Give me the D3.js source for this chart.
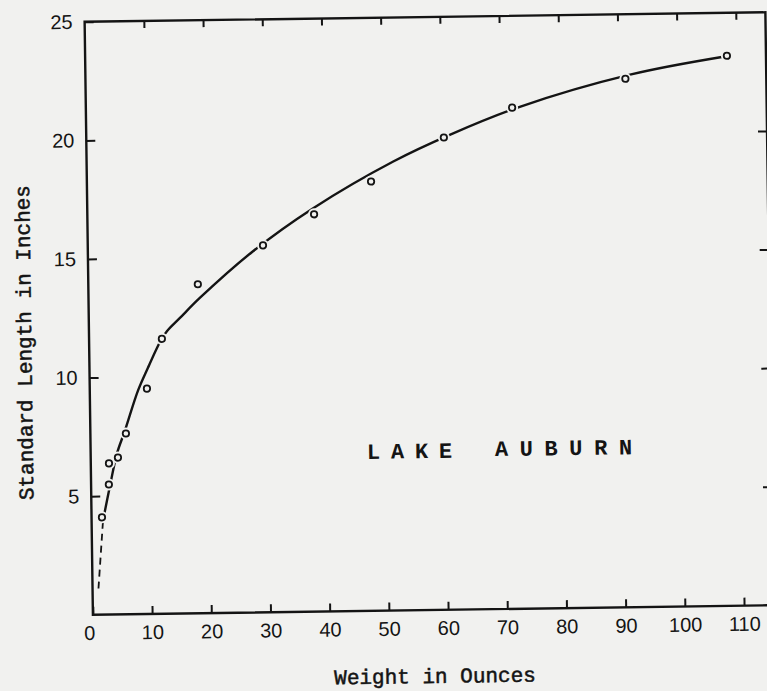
<!DOCTYPE html>
<html>
<head>
<meta charset="utf-8">
<script src="https://cdn.jsdelivr.net/npm/d3@7/dist/d3.min.js"></script>
<style>
  html, body { margin: 0; padding: 0; background: #f1f1ef; }
  svg { display: block; }
</style>
</head>
<body>
<svg id="chart" width="767" height="691"></svg>
<script>
// ---- data ----
const weightOz = [1.76, 3.0, 3.07, 4.6, 6.0, 9.66, 12.3, 18.5, 29.6, 38.3, 48.0, 60.4, 72.0, 91.2, 108.4];
const lengthIn = [4.10, 5.48, 6.37, 6.61, 7.62, 9.50, 11.59, 13.87, 15.47, 16.75, 18.10, 19.91, 21.13, 22.28, 23.19];

// fitted (hand-drawn) curve
const curveWeight = [1.93, 3.28, 4.44, 5.84, 8.14, 9.88, 11.45, 12.3, 13.2, 15.4, 18.8, 27.9, 38.1, 51.8, 61.5, 73.3, 92.0, 107.8];
const curveLength = [3.97, 5.53, 6.78, 7.74, 9.42, 10.38, 11.21, 11.6, 11.92, 12.46, 13.29, 15.23, 17.0, 18.93, 20.03, 21.16, 22.45, 23.15];

// dashed extrapolation toward the origin
const dashWeight = [1.0, 1.93];
const dashLength = [1.1, 3.97];

const xTicks = [0, 10, 20, 30, 40, 50, 60, 70, 80, 90, 100, 110];
const yTicks = [5, 10, 15, 20, 25];
const innerYTicks = [5, 10, 15, 20];
const innerXTicks = [10, 20, 30, 40, 50, 60, 70, 80, 90, 100, 110];

const xTitle = "Weight in Ounces";
const yTitle = "Standard Length in Inches";
const annotation1 = "LAKE";
const annotation2 = "AUBURN";

// ---- layout ----
const bg = "#f1f1ef";
const ink = "#141414";
const xMax = 115;

const x = d3.scaleLinear().domain([0, 110]).range([88.8, 740]);
const y = d3.scaleLinear().domain([0, 25]).range([610, 17]);

const svg = d3.select("#chart");
svg.append("rect").attr("width", 767).attr("height", 691).attr("fill", bg);

// the scanned figure is slightly rotated
const g = svg.append("g").attr("transform", "rotate(-0.8, 430, 318)");

// frame
g.append("path")
  .attr("d", `M${x(0)},${y(0)} L${x(0)},${y(25)} L${x(xMax)},${y(25)} L${x(xMax)},${y(0)} Z`)
  .attr("fill", "none").attr("stroke", ink).attr("stroke-width", 2.4);

const tickFont = "'Liberation Sans', Arial, sans-serif";

// bottom axis
const gx = g.append("g").attr("transform", `translate(0,${y(0)})`)
  .call(d3.axisBottom(x).tickValues(xTicks).tickSize(-8).tickSizeOuter(0).tickPadding(11).tickFormat(d3.format("d")));
gx.select(".domain").remove();
gx.selectAll("line").attr("stroke", ink).attr("stroke-width", 2);
gx.selectAll("text").attr("font-family", tickFont).attr("font-size", 20).attr("fill", ink)
  .attr("dx", d => d === 0 ? -4 : 0);

// left axis
const gy = g.append("g").attr("transform", `translate(${x(0)},0)`)
  .call(d3.axisLeft(y).tickValues(yTicks).tickSize(-9).tickSizeOuter(0).tickPadding(12).tickFormat(d3.format("d")));
gy.select(".domain").remove();
gy.selectAll("line").attr("stroke", ink).attr("stroke-width", 2);
gy.selectAll("text").attr("font-family", tickFont).attr("font-size", 20).attr("fill", ink);

// top axis (ticks only)
const gt = g.append("g").attr("transform", `translate(0,${y(25)})`)
  .call(d3.axisTop(x).tickValues(innerXTicks).tickSize(-7).tickSizeOuter(0).tickFormat(""));
gt.select(".domain").remove();
gt.selectAll("line").attr("stroke", ink).attr("stroke-width", 2);

// right axis (ticks only)
const gr = g.append("g").attr("transform", `translate(${x(xMax)},0)`)
  .call(d3.axisRight(y).tickValues(innerYTicks).tickSize(-9).tickSizeOuter(0).tickFormat(""));
gr.select(".domain").remove();
gr.selectAll("line").attr("stroke", ink).attr("stroke-width", 2);

// curve
const curvePts = curveWeight.map((w, i) => [w, curveLength[i]]);
const line = d3.line().x(d => x(d[0])).y(d => y(d[1])).curve(d3.curveCatmullRom.alpha(0.5));
g.append("path").attr("d", line(curvePts))
  .attr("fill", "none").attr("stroke", ink).attr("stroke-width", 2.4).attr("stroke-linecap", "round");

const dashPts = dashWeight.map((w, i) => [w, dashLength[i]]);
g.append("path").attr("d", d3.line().x(d => x(d[0])).y(d => y(d[1]))(dashPts))
  .attr("fill", "none").attr("stroke", ink).attr("stroke-width", 1.8).attr("stroke-dasharray", "7,5");

// observed points: knock the line out around each, then draw open circles
const pts = weightOz.map((w, i) => [w, lengthIn[i]]);
g.append("g").selectAll("circle").data(pts).join("circle")
  .attr("cx", d => x(d[0])).attr("cy", d => y(d[1])).attr("r", 6).attr("fill", bg);
g.append("g").selectAll("circle").data(pts).join("circle")
  .attr("cx", d => x(d[0])).attr("cy", d => y(d[1])).attr("r", 3.2)
  .attr("fill", bg).attr("stroke", ink).attr("stroke-width", 1.8);

// titles
const monoFont = "'Liberation Mono', 'Courier New', monospace";
g.append("text").text(xTitle)
  .attr("x", 430).attr("y", 683).attr("text-anchor", "middle")
  .attr("font-family", monoFont).attr("font-size", 21).attr("fill", ink)
  .attr("stroke", ink).attr("stroke-width", 0.5);

g.append("text").text(yTitle)
  .attr("transform", "translate(31,337) rotate(-90)").attr("text-anchor", "middle")
  .attr("font-family", monoFont).attr("font-size", 21).attr("fill", ink)
  .attr("stroke", ink).attr("stroke-width", 0.5);

g.append("text").text(annotation1)
  .attr("x", 365).attr("y", 458)
  .attr("font-family", monoFont).attr("font-size", 22).attr("font-weight", "bold")
  .attr("letter-spacing", 10.8).attr("fill", ink);
g.append("text").text(annotation2)
  .attr("x", 493).attr("y", 457)
  .attr("font-family", monoFont).attr("font-size", 22).attr("font-weight", "bold")
  .attr("letter-spacing", 11.6).attr("fill", ink);
</script>
</body>
</html>
